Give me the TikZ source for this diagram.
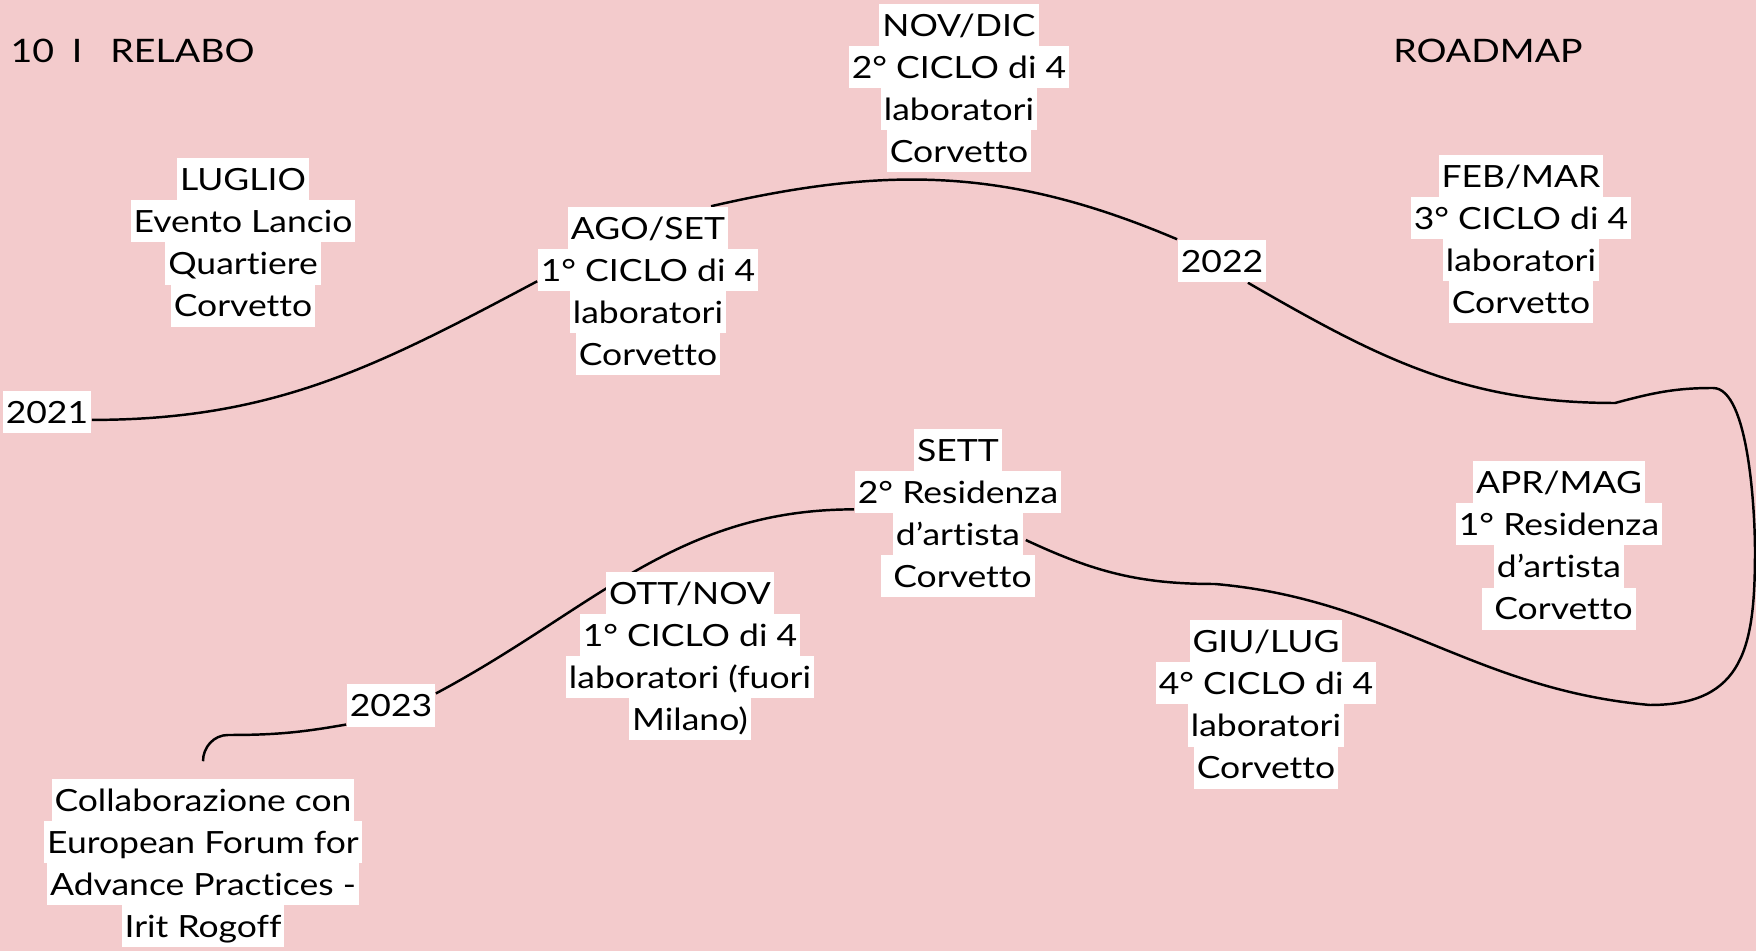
\documentclass[tikz,border=0pt]{standalone}
\usepackage{fontspec}
\setmainfont{Lato}[FakeStretch = 1.16, Ligatures = NoCommon]
\usetikzlibrary{positioning}
\usetikzlibrary{backgrounds}

\definecolor{pinkbg}{RGB}{243,203,204}
\setlength{\lineskiplimit}{-2pt}

% one white strip behind each line of text
\newcommand{\hl}[1]{{\setlength{\fboxsep}{0pt}\colorbox{white}{\rule[-2.76pt]{0pt}{11.95pt}\hspace{0.85pt}#1\hspace{0.85pt}}}}

\tikzset{
    milestone/.style = {align = center, inner sep = 0, font = \fontsize{8.7}{11.95}\selectfont},
    heading/.style = {inner sep = 0, font = \fontsize{9.2}{12}\selectfont},
    road/.style = {line width = 0.7pt}
}

\begin{document}
\begin{tikzpicture}[x = 0.01cm, y = 0.01cm]
    \useasboundingbox (0, 0) rectangle (1756, 951);
    % nodes %
    \node[heading, anchor = base west] (title) at (10, 888) {10\hspace{5pt}I\hspace{8pt}RELABO};
    \node[heading, anchor = base] (roadmap) at (1488, 888) {ROADMAP};
    \node[milestone] (y2021) at (47, 539) {\hl{2021}};
    \node[milestone] (luglio) at (243, 708.5) {\hl{LUGLIO}\\\hl{Evento Lancio}\\\hl{Quartiere}\\\hl{Corvetto}};
    \node[milestone] (agoset) at (648, 660) {\hl{AGO/SET}\\\hl{1° CICLO di 4}\\\hl{laboratori}\\\hl{Corvetto}};
    \node[milestone] (novdic) at (959, 863) {\hl{NOV/DIC}\\\hl{2° CICLO di 4}\\\hl{laboratori}\\\hl{Corvetto}};
    \node[milestone] (y2022) at (1222, 690) {\hl{2022}};
    \node[milestone] (febmar) at (1521, 712) {\hl{FEB/MAR}\\\hl{3° CICLO di 4}\\\hl{laboratori}\\\hl{Corvetto}};
    \node[milestone] (aprmag) at (1559, 405.5) {\hl{APR/MAG}\\\hl{1° Residenza}\\\hl{d’artista}\\\hl{\ Corvetto}};
    \node[milestone] (sett) at (958, 438) {\hl{SETT}\\\hl{2° Residenza}\\\hl{d’artista}\\\hl{\ Corvetto}};
    \node[milestone] (giulug) at (1266, 246.5) {\hl{GIU/LUG}\\\hl{4° CICLO di 4}\\\hl{laboratori}\\\hl{Corvetto}};
    \node[milestone] (ottnov) at (690, 295) {\hl{OTT/NOV}\\\hl{1° CICLO di 4}\\\hl{laboratori (fuori}\\\hl{Milano)}};
    \node[milestone] (y2023) at (391, 245.5) {\hl{2023}};
    \node[milestone] (collab) at (203, 88) {\hl{Collaborazione con}\\\hl{European Forum for}\\\hl{Advance Practices -}\\\hl{Irit Rogoff}};
    \coordinate[above = 0.17cm of collab] (tail);
    % bends of the road %
    \coordinate (k1) at (1615, 548);
    \coordinate (k2) at (1713, 563);
    \coordinate (k3) at (1755, 400);
    \coordinate (k4) at (1650, 246);
    \coordinate (k6) at (1215, 367);
    \coordinate (k8) at (228, 216);
    % edges %
    \begin{scope}[on background layer]
        \fill[pinkbg] (0, 0) rectangle (1756, 951);
        \draw[road] (y2021.350) [out=0,in=208] to (agoset.175);
        \draw[road] ([xshift=0.63cm]agoset.north) [out=13,in=157] to (y2022.north west);
        \draw[road] (y2022.-40) [out=-30,in=180] to (k1)
            [out=15,in=180] to (k2)
            [out=0,in=90,looseness=0.55] to (k3)
            [out=-90,in=0,looseness=1.3] to (k4)
            [out=175,in=-5,looseness=1] to (k6)
            [out=180,in=-25] to ([xshift=-0.36cm,yshift=-0.27cm]sett.east);
        \draw[road] (sett.178) [out=180,in=28] to (y2023.15);
        \draw[road] (y2023.203) [out=190,in=0] to (k8) [out=180,in=90] to (tail);
    \end{scope}
\end{tikzpicture}
\end{document}
